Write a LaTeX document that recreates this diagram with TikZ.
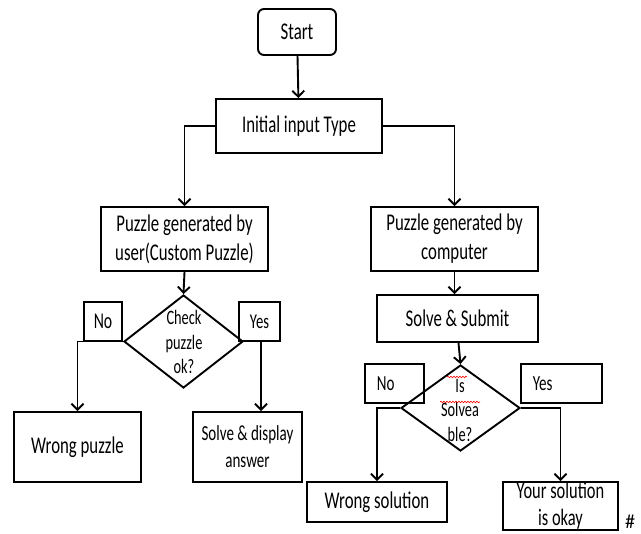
\documentclass[tikz,border=0pt]{standalone}
\usepackage{fontspec}
\setmainfont{Carlito}[FakeStretch=0.7]
\newfontfamily\hashfont{Carlito}
\usetikzlibrary{arrows.meta,shapes.geometric,decorations.pathmorphing}
\begin{document}
\begin{tikzpicture}[x=1pt,y=-1pt,
  box/.style={draw,line width=1.9pt,inner sep=0pt,align=center,font=\fontsize{24}{29}\selectfont},
  lbl/.style={box,align=left,inner xsep=12pt,anchor=west,font=\fontsize{21.5}{26}\selectfont},
  dia/.style={draw,diamond,line width=1.9pt,inner sep=0pt},
  dtext/.style={align=center,inner sep=0pt,font=\fontsize{20.5}{24.5}\selectfont},
  conn/.style={line width=1.9pt,-{Straight Barb[length=6pt,width=12pt,line width=1.9pt]}},
  squig/.style={draw=red,line width=0.6pt,decorate,decoration={snake,amplitude=0.8pt,segment length=3pt}}]
\useasboundingbox (0,0) rectangle (641,534);

\node[box,rounded corners=6pt,minimum width=78,minimum height=46] (start) at (297,32) {Start};
\node[box,minimum width=166,minimum height=54] (init) at (299,126) {Initial input Type};
\node[box,minimum width=167,minimum height=64] (user) at (184.5,239) {Puzzle generated by\\user(Custom Puzzle)};
\node[box,minimum width=167,minimum height=64] (comp) at (454.5,239) {Puzzle generated by\\computer};

\node[dia,minimum width=119,minimum height=93] (d1) at (183.5,341.5) {};
\node[dtext] (d1t) at (184,342) {Check\\puzzle\\ok?};
\node[box,minimum width=38,minimum height=39,font=\fontsize{22.5}{26}\selectfont] (no1) at (103,321.5) {No};
\node[box,minimum width=41,minimum height=39,font=\fontsize{21}{26}\selectfont] (yes1) at (259.5,321.5) {Yes};
\node[box,minimum width=127,minimum height=70] (wp) at (77.5,447) {Wrong puzzle};
\node[box,minimum width=109,minimum height=70,font=\fontsize{21.5}{27}\selectfont] (sd) at (247.5,447) {Solve \& display\\answer};

\node[box,minimum width=161,minimum height=47] (ss) at (457.5,318.5) {Solve \& Submit};
\node[dia,minimum width=119,minimum height=86] (d2) at (460.5,408) {};
\node[dtext] (d2t) at (460,410) {Is\\Solvea\\ble?};
\node[lbl,text width=35,minimum height=39] (no2) at (364,383.5) {No};
\node[lbl,text width=57,minimum height=39] (yes2) at (520,383.5) {Yes};
\node[box,minimum width=140,minimum height=40] (ws) at (377,502) {Wrong solution};
\node[box,minimum width=115,minimum height=48,font=\fontsize{23.5}{27}\selectfont] (ok) at (560.5,506) {Your solution\\is okay};
\node[inner sep=0pt,font=\hashfont\fontsize{20}{22}\selectfont] (hash) at (630,522) {\#};

\draw[squig] ([xshift=-20pt,yshift=8pt]d2t.center) -- ([xshift=20pt,yshift=8pt]d2t.center);
\draw[squig] ([xshift=-13pt,yshift=33pt]d2t.center) -- ([xshift=7pt,yshift=33pt]d2t.center);

\draw[conn] (start) -- (init);
\draw[conn] (init.west) -| (user.north);
\draw[conn] (init.east) -| (comp.north);
\draw[conn] (user.south) -- (d1.north);
\draw[conn] (d1.west) -| (wp.north);
\draw[conn] (d1.east) -| ([xshift=13.5pt]sd.north);
\draw[conn] (comp.south) -- (comp.south |- ss.north);
\draw[conn] ([xshift=1pt]ss.south) -- (d2.north);
\draw[conn] (d2.west) -| (ws.north);
\draw[conn] (d2.east) -| (ok.north);
\end{tikzpicture}
\end{document}
